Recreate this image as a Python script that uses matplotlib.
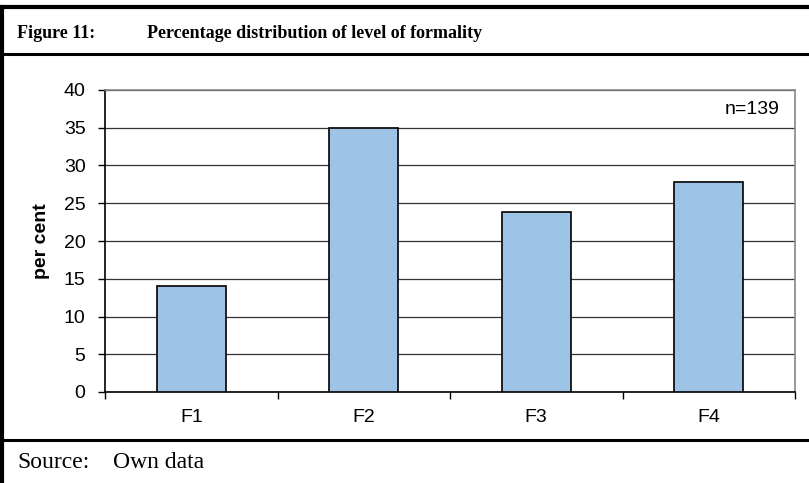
import matplotlib
matplotlib.use("Agg")
import matplotlib.pyplot as plt
from matplotlib.lines import Line2D
import numpy as np

categories = ["F1", "F2", "F3", "F4"]
percent = [14.1, 35.0, 23.8, 27.8]
y_ticks = [0, 5, 10, 15, 20, 25, 30, 35, 40]

BAR_COLOR = "#9DC3E6"
SANS = "Liberation Sans"
SERIF = "Liberation Serif"

fig = plt.figure(figsize=(8.09, 4.83), dpi=100)
ax = fig.add_axes([105 / 809, 1 - 392 / 483, 690 / 809, 302 / 483])

x = np.arange(len(categories))
ax.bar(x, percent, width=0.4, color=BAR_COLOR, edgecolor="black", linewidth=1.2, zorder=3)

ax.set_xlim(-0.5, len(categories) - 0.5)
ax.set_ylim(0, 40)
ax.set_yticks(y_ticks)
ax.set_yticklabels([str(t) for t in y_ticks], fontsize=14, family=SANS)
ax.set_xticks(x)
ax.set_xticklabels(categories, fontsize=14, family=SANS)
ax.set_xticks(np.arange(-0.5, len(categories)), minor=True)
ax.tick_params(axis="x", which="major", length=0, pad=12)
ax.tick_params(axis="x", which="minor", length=5, width=1, direction="out")
ax.tick_params(axis="y", length=5, width=1, direction="out", pad=9)

ax.yaxis.grid(True, color="#333333", linewidth=0.9, zorder=0)
ax.set_axisbelow(True)
for side in ("top", "right"):
    ax.spines[side].set_color("#868686")
    ax.spines[side].set_linewidth(1.2)
for side in ("left", "bottom"):
    ax.spines[side].set_color("black")
    ax.spines[side].set_linewidth(1.2)

ax.text(0.978, 0.934, "n=139", transform=ax.transAxes, ha="right", va="center",
        fontsize=14, family=SANS)

fig.text(42 / 809, 0.5 * ((1 - 392 / 483) + (1 - 90 / 483)), "per cent", rotation=90,
         ha="center", va="center", fontsize=14, fontweight="bold", family=SANS)

# frame around the figure block
def hline(y, lw):
    fig.add_artist(Line2D([0, 1], [y, y], transform=fig.transFigure, color="black", linewidth=lw))

hline(1 - 7 / 483, 3)
hline(1 - 54 / 483, 2.2)
hline(1 - 440 / 483, 2.2)
fig.add_artist(Line2D([1.5 / 809, 1.5 / 809], [0, 1 - 7 / 483], transform=fig.transFigure,
                      color="black", linewidth=3))

fig.text(17 / 809, 1 - 33 / 483, "Figure 11:", ha="left", va="center",
         fontsize=13, fontweight="bold", family=SERIF)
fig.text(147 / 809, 1 - 33 / 483, "Percentage distribution of level of formality", ha="left",
         va="center", fontsize=13, fontweight="bold", family=SERIF)
fig.text(17 / 809, 1 - 462 / 483, "Source:", ha="left", va="center", fontsize=17, family=SERIF)
fig.text(113 / 809, 1 - 462 / 483, "Own data", ha="left", va="center", fontsize=17, family=SERIF)

fig.savefig("out.png", dpi=100)
